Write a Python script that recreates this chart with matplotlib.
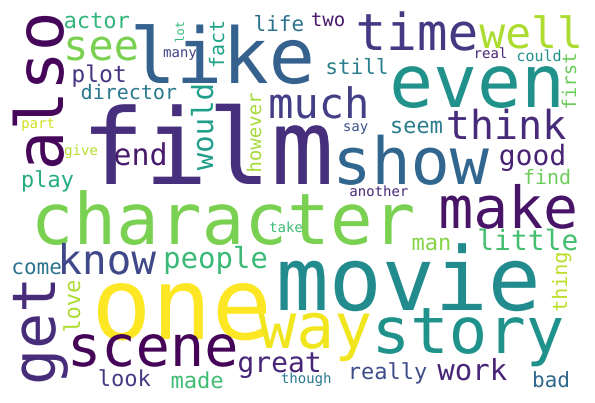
import numpy as np
import matplotlib
matplotlib.use("Agg")
import matplotlib.pyplot as plt
from matplotlib.textpath import TextPath
from matplotlib.patches import PathPatch
from matplotlib.font_manager import FontProperties
from matplotlib.transforms import Affine2D

# words and their size in the cloud (font size, px)
words = ["also", "like", "see", "actor", "lot", "many", "fact", "life", "plot",
         "director", "would", "however", "much", "part", "film", "end", "give",
         "play", "two", "time", "well", "real", "could", "first", "still", "even",
         "think", "seem", "say", "show", "good", "find", "another", "character",
         "take", "know", "come", "people", "get", "love", "one", "scene", "great",
         "look", "made", "though", "make", "man", "little", "thing", "movie",
         "way", "story", "really", "work", "bad"]
sizes = [66, 77, 42, 22, 12, 14, 20, 21, 23,
         20, 29, 19, 42, 14, 105, 30, 14,
         22, 19, 51, 43, 14, 15, 19, 21, 73,
         40, 22, 14, 65, 28, 20, 14, 71,
         14, 41, 21, 29, 60, 22, 100, 57, 28,
         22, 22, 14, 58, 22, 28, 20, 88,
         63, 64, 22, 29, 21]
colors = ["#46075a", "#34618d", "#7ad151", "#31b57b", "#35b779", "#414487", "#1fa187", "#2c728e", "#463480",
          "#2a788e", "#1f9e89", "#a5db36", "#433e85", "#d0e11c", "#472f7d", "#481a6c", "#b5de2b",
          "#25ab82", "#48186a", "#443a83", "#addc30", "#482475", "#21918c", "#6ccd5a", "#2c7e8e", "#21918c",
          "#472a7a", "#297b8e", "#3b528b", "#31668e", "#482374", "#6ccd5a", "#482878", "#7ad151",
          "#3dbc74", "#3f4889", "#2c738e", "#3aba76", "#472c7a", "#addc30", "#fde725", "#450457", "#482677",
          "#443983", "#3fbc73", "#2a788e", "#481467", "#86d549", "#44bf70", "#bade28", "#228b8d",
          "#f1e51d", "#20928c", "#3e4c8a", "#482576", "#31688e"]

# layout: horizontal words -> (centre x, baseline y); vertical words -> (baseline x, centre y)
pos_x = [63, 223, 102, 97, 184, 180, 224, 279, 99,
         129, 213, 261, 318, 38, 210, 140, 81,
         48, 328, 417, 529, 491, 539, 576, 357, 476,
         507, 417, 356, 414, 532, 547, 379, 225,
         286, 109, 37, 216, 55, 80, 182, 154, 279,
         125, 197, 306, 508, 431, 528, 567, 408,
         314, 470, 389, 472, 551]
pos_y = [91, 83, 60, 28, 32, 57, 44, 31, 82,
         99, 128, 132, 118, 128, 184, 165, 155,
         187, 26, 50, 48, 58, 61, 81, 74, 107,
         139, 133, 131, 184, 165, 184, 196, 244,
         232, 274, 274, 268, 332, 306, 339, 366, 372,
         386, 388, 383, 228, 250, 250, 282, 310,
         348, 353, 379, 380, 387]
vertical = {"also", "lot", "fact", "would", "however", "first", "get", "love", "thing"}

W, H = 595, 403
fig = plt.figure(figsize=(W / 100, H / 100), dpi=100)
ax = fig.add_axes([0, 0, 1, 1])
ax.set_xlim(0, W)
ax.set_ylim(H, 0)
ax.axis("off")

prop = FontProperties(family="DejaVu Sans Mono")
for word, size, color, x, y in zip(words, sizes, colors, pos_x, pos_y):
    tp = TextPath((0, 0), word, size=1, prop=prop)
    bb = tp.get_extents()
    cx = (bb.x0 + bb.x1) / 2
    if word in vertical:
        # reads bottom to top
        m = [[0, -size, x], [-size, 0, y + size * cx], [0, 0, 1]]
    else:
        m = [[size, 0, x - size * cx], [0, -size, y], [0, 0, 1]]
    tr = Affine2D(np.array(m, dtype=float))
    ax.add_patch(PathPatch(tp, transform=tr + ax.transData,
                           facecolor=color, edgecolor="none", lw=0))

fig.savefig("out.png", dpi=100, facecolor="white")
